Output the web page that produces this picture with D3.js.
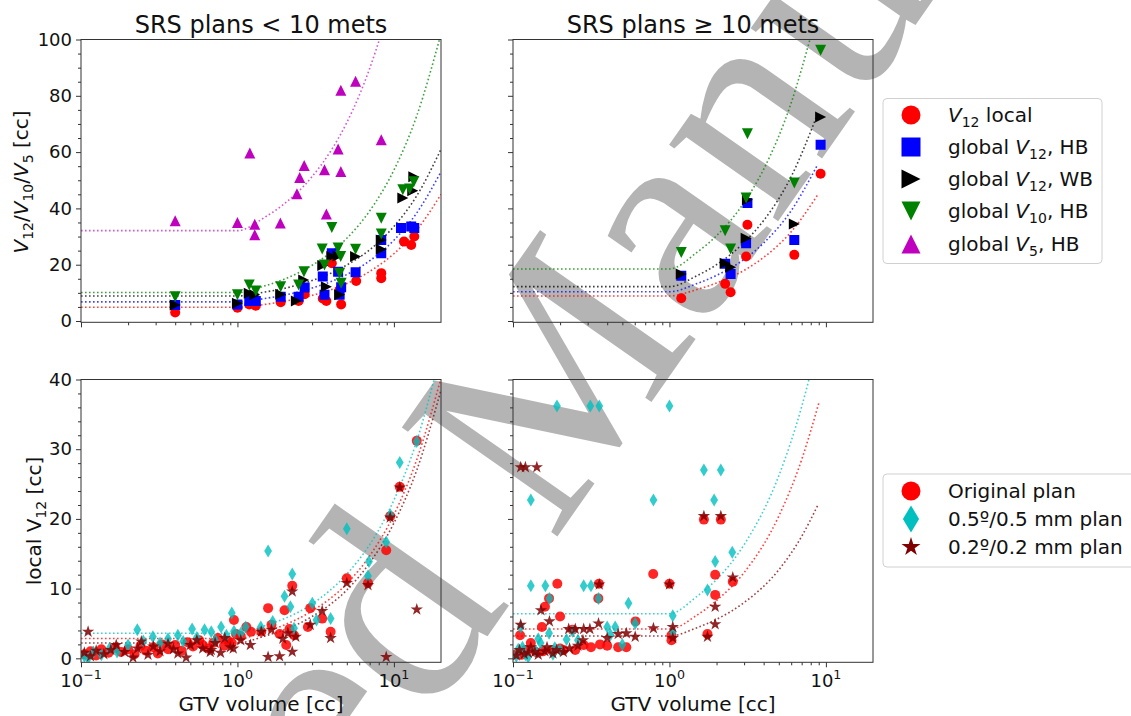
<!DOCTYPE html>
<html><head><meta charset="utf-8">
<script src="https://cdn.jsdelivr.net/npm/d3@7"></script>
<style>
body{margin:0;background:#fff;}
text{font-family:"DejaVu Sans",sans-serif;fill:#111;}
text.wm{font-family:"Liberation Serif","Times New Roman",serif;fill:#b4b4b4;}
</style></head>
<body><svg id="c" width="1131" height="716"></svg>
<script>
// ================= DATA =================
const titles = ["SRS plans < 10 mets", "SRS plans \u2265 10 mets"];
const xTickExps = [-1, 0, 1];
const yTicksTop = [0, 20, 40, 60, 80, 100];
const yTicksBottom = [0, 10, 20, 30, 40];
const legendBottom = ["Original plan", "0.5\u00ba/0.5 mm plan", "0.2\u00ba/0.2 mm plan"];
const watermarkText = "Accepted Manuscript";

// top-left: SRS plans < 10 mets  [GTV cc, volume cc]
const tlLocalV12 = [[0.40,3.0],[1.0,4.7],[1.19,5.9],[1.31,5.4],[1.89,6.7],[2.46,7.1],[2.69,9.5],[3.51,8.0],[3.7,7.1],[4.01,20.5],[4.5,11],[4.6,5.9],[5.74,14.2],[8.3,17],[8.3,15.2],[11.6,28.2],[12.9,27],[13.5,30]];
const tlGlobalV12HB = [[0.40,5.7],[1.0,5.9],[1.19,7.1],[1.31,7.1],[1.89,8.6],[2.46,8.6],[2.69,11.9],[3.51,15.8],[3.6,9.3],[4.01,24.1],[4.4,17.5],[4.5,9.3],[4.6,12],[5.69,17.3],[8.3,28.8],[8.3,24.1],[11.1,33],[12.9,33.6],[13.5,33]];
const tlGlobalV12WB = [[0.40,5.7],[1.0,6.3],[1.19,9.9],[1.29,9.3],[1.89,9.5],[2.38,7.1],[2.65,14.6],[3.51,19.7],[3.7,12.2],[4.01,22.9],[4.4,23.1],[4.5,9.3],[5.69,22.9],[8.3,28.8],[8.3,25.5],[11.4,43.7],[13.2,46.3],[13.4,51.2]];
const tlGlobalV10HB = [[0.40,8.6],[1.0,9.3],[1.19,12.8],[1.31,10.7],[1.89,12.2],[2.46,12.8],[2.66,17.5],[3.48,25.6],[3.6,19.9],[4.01,33.2],[4.4,25.9],[4.57,22.9],[4.5,17],[4.6,13.4],[5.69,25.5],[8.3,36.5],[8.3,30.9],[11.4,46.6],[12.6,46.9],[13.4,49.5]];
const tlGlobalV5HB = [[0.40,35.6],[1.0,35.0],[1.2,59.7],[1.29,34.4],[1.29,30.6],[1.88,34.8],[2.4,45.2],[2.5,51],[2.67,55.2],[3.6,53.7],[3.7,38],[4.4,61.1],[4.58,82],[4.58,53.1],[5.69,85.2],[8.3,64.4]];

// top-right: SRS plans >= 10 mets
const trLocalV12 = [[1.19,8.1],[2.27,13.2],[2.46,10.2],[3.09,22.9],[3.15,34.2],[6.28,23.5],[9.25,52.3]];
const trGlobalV12HB = [[1.19,16.1],[2.27,20.3],[2.46,16.7],[3.09,27.6],[3.15,41.9],[6.28,28.8],[9.25,62.6]];
const trGlobalV12WB = [[1.19,16.7],[2.27,20.5],[2.46,19.1],[3.09,29.4],[3.15,43.1],[6.28,34.5],[9.25,72.5]];
const trGlobalV10HB = [[1.19,24.3],[2.27,32.1],[2.46,25.6],[3.09,43.7],[3.15,66.5],[6.28,49],[9.25,96.2]];

// bottom-left: local V12 per plan type
const blOriginal = [[0.105,0.6],[0.115,1.0],[0.125,0.4],[0.135,1.3],[0.15,0.8],[0.165,1.5],[0.18,0.9],[0.2,1.3],[0.22,0.6],[0.24,1.8],[0.26,1.1],[0.29,1.6],[0.31,0.7],[0.33,2.0],[0.36,1.3],[0.4,1.9],[0.44,1.1],[0.48,2.3],[0.52,1.7],[0.57,2.6],[0.6,1.9],[0.65,1.4],[0.7,2.2],[0.75,2.9],[0.82,1.8],[0.87,2.5],[0.92,2.2],[0.95,5.5],[0.98,3.5],[1.05,3.2],[1.14,4.5],[1.22,3.8],[1.42,3.8],[1.57,7.2],[1.65,4.8],[1.86,3.5],[2.0,6.9],[2.05,1.9],[2.15,4.2],[2.24,10.4],[2.3,3.3],[2.82,4.5],[2.92,7.2],[3.48,5.7],[3.94,3.8],[5.0,11.5],[6.83,10.8],[8.93,15.5],[9.47,20.4],[10.9,24.6],[14.0,31.2]];
const blHalfDeg = [[0.105,0.3],[0.111,0.0],[0.12,0.9],[0.135,0.5],[0.152,1.4],[0.17,0.9],[0.2,1.9],[0.229,4.1],[0.25,2.5],[0.288,3.1],[0.32,2.2],[0.36,2.8],[0.416,3.3],[0.45,2.4],[0.513,4.2],[0.55,3.0],[0.616,4.1],[0.68,3.8],[0.72,2.6],[0.786,4.5],[0.85,3.3],[0.92,6.5],[0.95,3.9],[1.05,3.6],[1.13,4.5],[1.41,4.5],[1.57,15.4],[1.68,5.3],[2.0,8.9],[2.18,7.4],[2.24,12.1],[2.3,4.3],[3.01,7.9],[3.2,5.5],[3.94,5.7],[5.0,18.6],[6.83,11.8],[6.93,13.9],[8.93,16.7],[9.47,20.6],[10.9,28.1],[14.0,31.1]];
const blFifthDeg = [[0.111,3.8],[0.105,0.8],[0.115,0.3],[0.125,1.1],[0.14,0.6],[0.155,1.2],[0.168,1.9],[0.19,0.9],[0.215,0.1],[0.23,1.4],[0.243,2.4],[0.268,0.5],[0.29,1.7],[0.32,1.0],[0.36,2.1],[0.39,1.3],[0.416,0.7],[0.47,0.1],[0.5,1.9],[0.55,2.6],[0.6,1.4],[0.67,0.9],[0.68,1.2],[0.72,2.2],[0.78,0.8],[0.83,2.9],[0.9,1.6],[0.94,1.4],[1.05,2.6],[1.21,1.9],[1.42,3.8],[1.57,0.2],[1.65,4.1],[1.86,0.3],[1.95,2.8],[2.1,3.6],[2.24,0.95],[2.24,9.6],[2.36,3.1],[2.92,4.8],[3.48,6.8],[3.94,2.9],[5.0,10.8],[6.83,10.5],[8.93,0.2],[9.47,20.2],[10.9,24.5],[14.0,7.0]];

// bottom-right
const brOriginal = [[0.105,0.6],[0.111,3.3],[0.113,0.5],[0.12,1.2],[0.13,2.2],[0.14,0.9],[0.153,4.5],[0.155,1.0],[0.16,7.4],[0.17,8.6],[0.177,1.2],[0.18,1.0],[0.192,10.7],[0.2,6.0],[0.2,1.4],[0.21,1.2],[0.24,4.1],[0.25,1.2],[0.283,1.9],[0.315,1.6],[0.351,8.6],[0.354,10.7],[0.36,2.0],[0.40,1.8],[0.47,1.6],[0.53,1.6],[0.607,5.3],[0.787,12.1],[1.0,10.7],[1.03,3.3],[1.03,2.6],[1.66,19.9],[1.75,3.5],[1.96,12],[1.96,9.1],[2.13,19.9],[2.54,11]];
const brHalfDeg = [[0.105,0.3],[0.108,1.3],[0.112,4.5],[0.115,1.6],[0.12,0.5],[0.125,0.2],[0.13,22.7],[0.13,10.4],[0.14,1.0],[0.145,2.8],[0.15,2.2],[0.161,10.4],[0.171,8.6],[0.17,3.6],[0.18,0.6],[0.185,1.5],[0.191,36.2],[0.2,1.2],[0.22,2.7],[0.24,3.9],[0.26,2.6],[0.283,10.4],[0.312,36.2],[0.315,10.4],[0.352,8.6],[0.356,36.2],[0.4,4.5],[0.42,3.4],[0.45,4.5],[0.5,2.0],[0.547,7.9],[0.604,5.0],[0.79,22.7],[1.0,36.2],[1.05,6.1],[1.05,3.8],[1.66,27],[1.75,9.8],[1.93,22.7],[1.96,13.9],[2.13,27],[2.52,15.2]];
const brFifthDeg = [[0.105,0.4],[0.11,1.2],[0.112,27.4],[0.12,27.4],[0.112,4.8],[0.118,0.6],[0.125,0.8],[0.13,1.6],[0.138,0.9],[0.142,27.4],[0.145,0.5],[0.151,6.9],[0.16,1.0],[0.165,1.6],[0.171,5.3],[0.18,0.7],[0.19,1.2],[0.21,0.9],[0.227,4.2],[0.23,1.4],[0.25,4.2],[0.26,1.8],[0.28,2.6],[0.283,4.2],[0.31,4.2],[0.352,5.0],[0.356,10.6],[0.40,2.9],[0.47,3.5],[0.53,3.6],[0.604,3.1],[0.79,4.3],[1.0,10.6],[1.05,4.5],[1.05,2.9],[1.66,20.4],[1.75,3.1],[1.96,7.4],[1.96,4.9],[2.13,20.4],[2.54,11.6]];

// fitted trend curves as [x, y]
const tlFitLocal = [[0.1,4.9],[1,4.9],[1.5,5.9],[2,7.0],[3,9.1],[4,11.2],[5,13.3],[7,17.6],[10,23.9],[14,32.3],[20,45]];
const tlFitHB    = [[0.1,6.8],[1,6.8],[1.5,8.0],[2,9.2],[3,11.7],[4,14.1],[5,16.5],[7,21.4],[10,28.7],[14,38.4],[20,53]];
const tlFitWB    = [[0.1,8.9],[1,8.9],[1.5,10.3],[2,11.6],[3,14.4],[4,17.1],[5,19.9],[7,25.3],[10,33.6],[14,44.5],[20,61]];
const tlFitV10   = [[0.1,10.1],[1,10.1],[1.5,12.5],[2,14.9],[3,19.8],[4,24.6],[5,29.4],[7,39.1],[10,53.6],[14,72.9],[20,102]];
const tlFitV5    = [[0.1,32.1],[1,32.1],[1.5,36.9],[2,41.7],[3,51.3],[4,60.9],[5,70.5],[6,80.1],[7,89.7],[8.3,102]];
const trFitLocal = [[0.1,8.9],[1,8.9],[1.5,11.2],[2,13.5],[3,18],[4,22.6],[6,31.7],[8.93,45.1]];
const trFitHB    = [[0.1,10.4],[1,10.4],[1.5,13.3],[2,16.2],[3,21.9],[4,27.7],[6,39.2],[8.73,54.9]];
const trFitWB    = [[0.1,12.2],[1,12.2],[1.5,16.1],[2,20],[3,27.9],[4,35.7],[6,51.3],[8.73,72.7]];
const trFitV10   = [[0.1,18.5],[1,18.5],[1.5,24.4],[2,30.3],[3,42.1],[4,53.9],[6,77.5],[8,101]];
const blFitOriginal = [[0.1,2.85],[1,2.85],[1.5,3.8],[2,4.8],[3,6.8],[5,10.7],[7,14.7],[10,20.6],[14,28.5],[20,40.2]];
const blFitHalf     = [[0.1,3.6],[1,3.6],[1.5,4.7],[2,5.7],[3,7.8],[5,12.1],[7,16.3],[10,22.7],[14,31.2],[20,43.9]];
const blFitFifth    = [[0.1,2.2],[1,2.2],[1.5,3.2],[2,4.1],[3,6],[5,9.8],[7,13.7],[10,19.4],[14,27],[20,38.5]];
const brFitOriginal = [[0.1,4.2],[1,4.2],[1.5,6.2],[2,8.3],[3,12.3],[5,20.4],[7,28.5],[9.03,36.7]];
const brFitHalf     = [[0.1,6.4],[1,6.4],[1.5,8.9],[2,11.3],[3,16.3],[5,26.2],[7,36.1],[8,41]];
const brFitFifth    = [[0.1,3.2],[1,3.2],[1.5,4.4],[2,5.6],[3,8],[5,12.7],[7,17.5],[8.85,21.9]];

// ================= DRAWING =================
const svg = d3.select("#c");
const C = {red:"#ff0000", blue:"#0000ff", black:"#000000", green:"#008000", mag:"#bf00bf", cyan:"#00bfbf", dred:"#800000"};

// watermark (behind everything)
svg.append("text").attr("class","wm").attr("transform","translate(-117,1499.5) rotate(-55)")
  .attr("font-size",290).text(watermarkText);

const panels = {
  tl:{x0:81,x1:441,y0:39.5,y1:322.3, ydom:[-0.46,100]},
  tr:{x0:513,x1:873,y0:39.5,y1:322.3, ydom:[-0.46,100]},
  bl:{x0:81,x1:441,y0:379.5,y1:662.3, ydom:[-0.57,40]},
  br:{x0:513,x1:873,y0:379.5,y1:662.3, ydom:[-0.57,40]}
};
for (const k in panels){
  const p = panels[k];
  p.x = d3.scaleLog().domain([0.1,20]).range([p.x0,p.x1]);
  p.y = d3.scaleLinear().domain(p.ydom).range([p.y1,p.y0]);
}

const shapes = {
  circle: s => { const r=s/2; return `M${r},0A${r},${r} 0 1,1 ${-r},0A${r},${r} 0 1,1 ${r},0Z`; },
  square: s => { const h=s/2; return `M${-h},${-h}H${h}V${h}H${-h}Z`; },
  triUp: s => { const h=s/2; return `M0,${-h}L${h},${h}L${-h},${h}Z`; },
  triDown: s => { const h=s/2; return `M0,${h}L${h},${-h}L${-h},${-h}Z`; },
  triRight: s => { const h=s/2; return `M${h},0L${-h},${-h}L${-h},${h}Z`; },
  thinDiamond: s => { const h=s/2; return `M0,${-h}L${0.6*h},0L0,${h}L${-0.6*h},0Z`; },
  star: s => { const R=s/2, r=R*0.381966; let d=""; for(let i=0;i<10;i++){ const a=-Math.PI/2+i*Math.PI/5; const rr=i%2?r:R; d+=(i?"L":"M")+(rr*Math.cos(a)).toFixed(2)+","+(rr*Math.sin(a)).toFixed(2);} return d+"Z"; }
};

const defs = svg.append("defs");
for (const k in panels){
  const p = panels[k];
  defs.append("clipPath").attr("id","clip-"+k).append("rect")
    .attr("x",p.x0).attr("y",p.y0).attr("width",p.x1-p.x0).attr("height",p.y1-p.y0);
}

const layerPlot = svg.append("g");
const layerAxes = svg.append("g");

function drawFit(pk, pts, color, op){
  const p = panels[pk];
  const line = d3.line().x(d=>p.x(d[0])).y(d=>p.y(d[1])).curve(d3.curveMonotoneX);
  layerPlot.append("path").attr("d", line(pts)).attr("fill","none")
    .attr("stroke", color).attr("stroke-opacity", op).attr("stroke-width",1.6)
    .attr("stroke-dasharray","1.6,2.4").attr("clip-path",`url(#clip-${pk})`);
}
function drawPts(pk, pts, shape, size, color, op){
  const p = panels[pk];
  layerPlot.append("g").attr("clip-path",`url(#clip-${pk})`).selectAll("path").data(pts).join("path")
    .attr("transform", d=>`translate(${p.x(d[0])},${p.y(d[1])})`)
    .attr("d", shapes[shape](size)).attr("fill", color).attr("fill-opacity", op);
}

function rich(t, parts, size){
  let cur = 0;
  parts.forEach(([s,kind])=>{
    const ts = t.append("tspan").text(s);
    let off = 0;
    if(kind==="sub"){ off = size*0.24; ts.attr("font-size", size*0.7); }
    if(kind==="sup"){ off = -size*0.42; ts.attr("font-size", size*0.7); }
    if(kind==="i") ts.attr("font-style","italic");
    if(off!==cur){ ts.attr("dy", off-cur); cur = off; }
  });
}

// fits
drawFit("tl", tlFitLocal, C.red, 0.75);
drawFit("tl", tlFitHB, C.blue, 0.75);
drawFit("tl", tlFitWB, C.black, 0.75);
drawFit("tl", tlFitV10, C.green, 0.75);
drawFit("tl", tlFitV5, C.mag, 0.65);
drawFit("tr", trFitLocal, C.red, 0.75);
drawFit("tr", trFitHB, C.blue, 0.75);
drawFit("tr", trFitWB, C.black, 0.75);
drawFit("tr", trFitV10, C.green, 0.75);
drawFit("bl", blFitOriginal, C.red, 0.75);
drawFit("bl", blFitHalf, C.cyan, 0.75);
drawFit("bl", blFitFifth, C.dred, 0.75);
drawFit("br", brFitOriginal, C.red, 0.75);
drawFit("br", brFitHalf, C.cyan, 0.75);
drawFit("br", brFitFifth, C.dred, 0.75);

// points
drawPts("tl", tlLocalV12, "circle", 10, C.red, 1);
drawPts("tl", tlGlobalV12HB, "square", 10, C.blue, 1);
drawPts("tl", tlGlobalV12WB, "triRight", 11, C.black, 1);
drawPts("tl", tlGlobalV10HB, "triDown", 11, C.green, 1);
drawPts("tl", tlGlobalV5HB, "triUp", 11, C.mag, 1);
drawPts("tr", trLocalV12, "circle", 10, C.red, 1);
drawPts("tr", trGlobalV12HB, "square", 10, C.blue, 1);
drawPts("tr", trGlobalV12WB, "triRight", 11, C.black, 1);
drawPts("tr", trGlobalV10HB, "triDown", 11, C.green, 1);
drawPts("bl", blOriginal, "circle", 10, C.red, 0.85);
drawPts("bl", blHalfDeg, "thinDiamond", 13, C.cyan, 0.8);
drawPts("bl", blFifthDeg, "star", 13, C.dred, 0.85);
drawPts("br", brOriginal, "circle", 10, C.red, 0.85);
drawPts("br", brHalfDeg, "thinDiamond", 13, C.cyan, 0.8);
drawPts("br", brFifthDeg, "star", 13, C.dred, 0.85);

// axes
const xMinor = [];
[0.1,1].forEach(b=>{ for(let m=2;m<=9;m++) xMinor.push(b*m); });
const xMajor = xTickExps.map(e=>Math.pow(10,e));
function axesFor(pk, yMajor, yMinorStep, showX, showY){
  const p = panels[pk];
  const g = layerAxes.append("g");
  const yMinor = d3.range(0, p.ydom[1]+0.001, yMinorStep).filter(v=>!yMajor.includes(v));
  const gx = g.append("g").attr("transform",`translate(0,${p.y1})`);
  gx.call(d3.axisBottom(p.x).tickValues(xMajor).tickSize(5).tickSizeOuter(0).tickFormat(d=>""));
  gx.append("g").call(d3.axisBottom(p.x).tickValues(xMinor).tickSize(3).tickSizeOuter(0).tickFormat(""));
  const gy = g.append("g").attr("transform",`translate(${p.x0},0)`);
  gy.call(d3.axisLeft(p.y).tickValues(yMajor).tickSize(5).tickSizeOuter(0).tickPadding(4)
      .tickFormat(showY? d3.format("d") : (d=>"")));
  gy.append("g").call(d3.axisLeft(p.y).tickValues(yMinor).tickSize(3).tickSizeOuter(0).tickFormat(""));
  g.selectAll(".domain").remove();
  g.selectAll(".tick line").attr("stroke","#333");
  g.selectAll(".tick text").attr("font-size",18).attr("fill","#111");
  if(showX){
    xTickExps.forEach(e=>{
      const t = g.append("text").attr("x",p.x(Math.pow(10,e))).attr("y",p.y1+24.5)
        .attr("text-anchor","middle").attr("font-size",18);
      rich(t, [["10","n"],[e<0?"\u2212"+(-e):String(e),"sup"]], 18);
    });
  }
  g.append("rect").attr("x",p.x0).attr("y",p.y0).attr("width",p.x1-p.x0).attr("height",p.y1-p.y0)
    .attr("fill","none").attr("stroke","#333").attr("stroke-width",1);
}
axesFor("tl", yTicksTop, 5, false, true);
axesFor("tr", yTicksTop, 5, false, false);
axesFor("bl", yTicksBottom, 2, true, true);
axesFor("br", yTicksBottom, 2, true, false);

// titles
svg.append("text").attr("x",261).attr("y",33).attr("text-anchor","middle").attr("font-size",24).text(titles[0]);
svg.append("text").attr("x",693).attr("y",33).attr("text-anchor","middle").attr("font-size",24).text(titles[1]);

// y labels
{
  const t = svg.append("text").attr("transform","translate(28,182) rotate(-90)").attr("text-anchor","middle").attr("font-size",20);
  rich(t, [["V","i"],["12","sub"],["/","n"],["V","i"],["10","sub"],["/","n"],["V","i"],["5","sub"],[" [cc]","n"]], 20);
  const t2 = svg.append("text").attr("transform","translate(41,521) rotate(-90)").attr("text-anchor","middle").attr("font-size",20);
  rich(t2, [["local ","n"],["V","n"],["12","sub"],[" [cc]","n"]], 20);
}
// x labels
svg.append("text").attr("x",261).attr("y",711).attr("text-anchor","middle").attr("font-size",20).text("GTV volume [cc]");
svg.append("text").attr("x",693).attr("y",711).attr("text-anchor","middle").attr("font-size",20).text("GTV volume [cc]");

// legends
function legend(x, y, w, h, rows, fs){
  const g = svg.append("g");
  g.append("rect").attr("x",x).attr("y",y).attr("width",w).attr("height",h).attr("rx",4)
    .attr("fill","#fff").attr("fill-opacity",0.8).attr("stroke","#d0d0d0");
  rows.forEach(r=>{
    g.append("path").attr("transform",`translate(911,${r.cy})`).attr("d",shapes[r.shape](r.size)).attr("fill",r.color);
    const t = g.append("text").attr("x",948).attr("y",r.cy+7).attr("font-size",fs);
    rich(t, r.parts, fs);
  });
}
legend(883, 98.5, 219, 165, [
  {cy:115, shape:"circle", size:19, color:C.red, parts:[["V","i"],["12","sub"],[" local","n"]]},
  {cy:147, shape:"square", size:19, color:C.blue, parts:[["global ","n"],["V","i"],["12","sub"],[", HB","n"]]},
  {cy:179, shape:"triRight", size:19, color:C.black, parts:[["global ","n"],["V","i"],["12","sub"],[", WB","n"]]},
  {cy:211, shape:"triDown", size:19, color:C.green, parts:[["global ","n"],["V","i"],["10","sub"],[", HB","n"]]},
  {cy:244, shape:"triUp", size:19, color:C.mag, parts:[["global ","n"],["V","i"],["5","sub"],[", HB","n"]]}
], 20);
legend(883, 474, 260, 93, [
  {cy:491, shape:"circle", size:19, color:C.red, parts:[[legendBottom[0],"n"]]},
  {cy:519, shape:"thinDiamond", size:27, color:C.cyan, parts:[[legendBottom[1],"n"]]},
  {cy:547, shape:"star", size:20, color:C.dred, parts:[[legendBottom[2],"n"]]}
], 20);
</script></body></html>
